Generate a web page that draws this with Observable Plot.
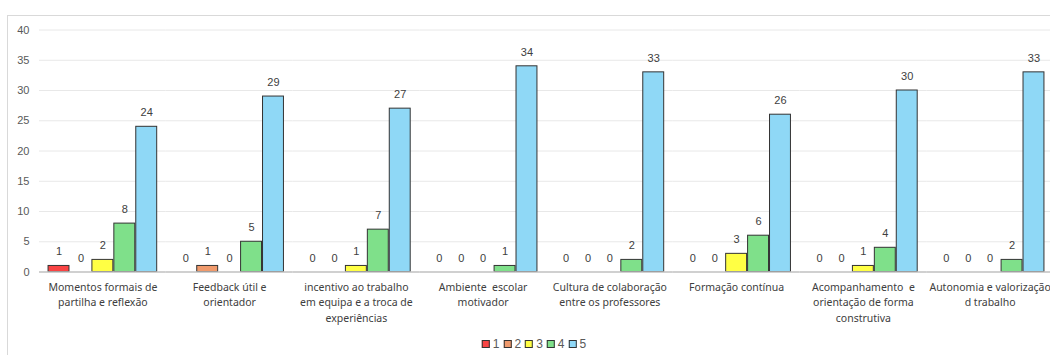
<!DOCTYPE html>
<html>
<head>
<meta charset="utf-8">
<script src="https://cdn.jsdelivr.net/npm/d3@7"></script>
<script src="https://cdn.jsdelivr.net/npm/@observablehq/plot@0.6"></script>
<style>
  html, body { margin: 0; padding: 0; background: #fff; }
  body { width: 1050px; height: 355px; position: relative; overflow: hidden; }
  #frame { position: absolute; left: 7px; top: 15px; width: 1100px; height: 400px;
           border: 1px solid #d9d9d9; box-sizing: border-box; }
  #chart { position: absolute; left: 0; top: 0; }
  #legend { position: absolute; top: 337px; left: 534px; transform: translateX(-50%);
            display: flex; gap: 4px; font: 12px "Liberation Sans", Arial, sans-serif; color: #595959; }
  #legend .item { display: flex; align-items: center; gap: 3px; }
  #legend .sw { width: 6px; height: 6px; border: 1px solid #333; }
</style>
</head>
<body>
<div id="frame"></div>
<div id="chart"></div>
<div id="legend"></div>
<script>
// Survey items (one group of bars each)
const categories = [
  "Momentos formais de\npartilha e reflexão",
  "Feedback útil e\norientador",
  "incentivo ao trabalho\nem equipa e a troca de\nexperiências",
  "Ambiente  escolar\nmotivador",
  "Cultura de colaboração\nentre os professores",
  "Formação contínua",
  "Acompanhamento  e\norientação de forma\nconstrutiva",
  "Autonomia e valorização\nd trabalho"
];

// Rating levels 1–5 and their counts per item
const series = ["1", "2", "3", "4", "5"];
const counts1 = [1, 0, 0, 0, 0, 0, 0, 0];
const counts2 = [0, 1, 0, 0, 0, 0, 0, 0];
const counts3 = [2, 0, 1, 0, 0, 3, 1, 0];
const counts4 = [8, 5, 7, 1, 2, 6, 4, 2];
const counts5 = [24, 29, 27, 34, 33, 26, 30, 33];
const colors = ["#f94444", "#f09a6c", "#ffff44", "#7fe08a", "#8fd8f6"];
const yTicks = [0, 5, 10, 15, 20, 25, 30, 35, 40];

const allCounts = [counts1, counts2, counts3, counts4, counts5];
const data = [];
categories.forEach((cat, i) => {
  series.forEach((s, j) => data.push({cat, series: s, value: allCounts[j][i]}));
});

const chart = Plot.plot({
  width: 1050,
  height: 355,
  marginLeft: 39,
  marginRight: -3,
  marginTop: 29.5,
  marginBottom: 83.5,
  style: {background: "none", overflow: "visible"},
  fx: {domain: categories, padding: 0, round: false, axis: null},
  x: {domain: series, paddingInner: 0, paddingOuter: 0.39, round: false, axis: null},
  y: {domain: [0, 40], axis: null, label: null},
  color: {domain: series, range: colors},
  marks: [
    Plot.gridY(yTicks, {stroke: "#e8e8e8", strokeOpacity: 1}),
    Plot.axisY(yTicks, {
      label: null, tickSize: 0, tickPadding: 10, fontSize: 11, fill: "#595959",
      fontFamily: "Liberation Sans, Arial, sans-serif"
    }),
    Plot.barY(data, {
      filter: d => d.value > 0,
      fx: "cat", x: "series", y: "value", fill: "series",
      stroke: "#333", strokeWidth: 1, insetLeft: 0.5, insetRight: 0.5
    }),
    Plot.ruleY([0], {stroke: "#c4c4c4", strokeWidth: 1.6}),
    Plot.text(data, {
      fx: "cat", x: "series", y: "value", text: d => String(d.value),
      dy: -14, lineAnchor: "middle", fontSize: 11, fill: "#404040",
      fontFamily: "Liberation Sans, Arial, sans-serif"
    }),
    Plot.text(categories, {
      fx: d => d, text: d => d, frameAnchor: "bottom", lineAnchor: "top",
      dy: 8, lineHeight: 1.46, fontSize: 10.5, fill: "#404040",
      fontFamily: "Noto Sans, sans-serif"
    })
  ]
});
document.getElementById("chart").appendChild(chart);

// Legend swatches
const legend = d3.select("#legend");
series.forEach((s, i) => {
  const item = legend.append("div").attr("class", "item");
  item.append("div").attr("class", "sw").style("background", colors[i]);
  item.append("span").text(s);
});
</script>
</body>
</html>
